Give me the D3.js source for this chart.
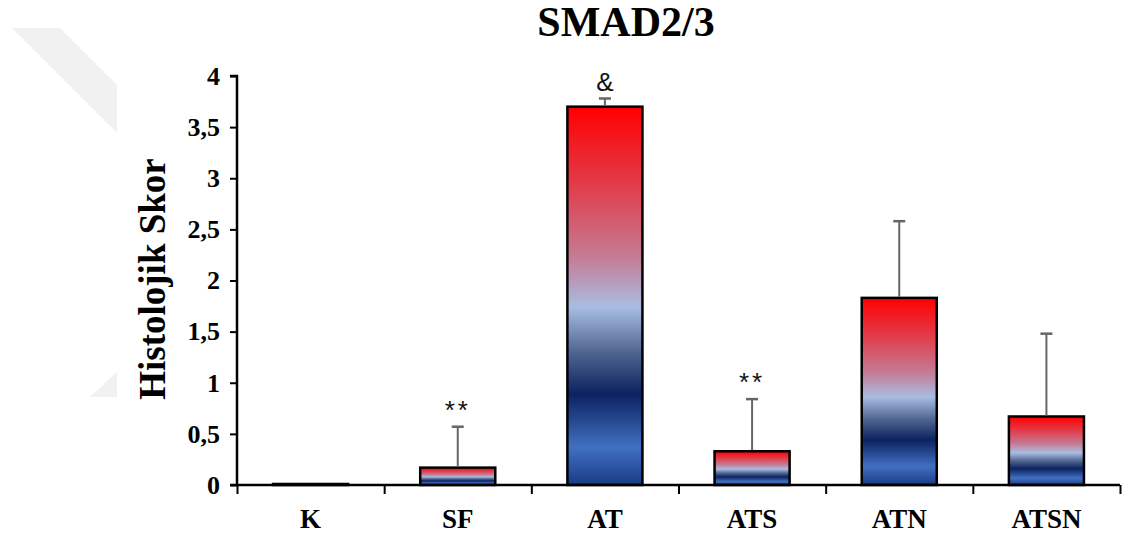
<!DOCTYPE html>
<html lang="tr">
<head>
<meta charset="UTF-8">
<title>SMAD2/3</title>
<script src="https://cdn.jsdelivr.net/npm/d3@7"></script>
<style>
  body { margin: 0; background: #fff; }
  svg { display: block; }
</style>
</head>
<body>
<div id="chart"></div>
<script>
// data
var groups = ["K", "SF", "AT", "ATS", "ATN", "ATSN"];
var means  = [0.01, 0.17, 3.70, 0.33, 1.83, 0.67];
var sds    = [0.00, 0.40, 0.08, 0.51, 0.75, 0.81];
var marks  = ["", "**", "&", "**", "", ""];
var yTicks = [0, 0.5, 1, 1.5, 2, 2.5, 3, 3.5, 4];

var W = 1129, H = 535;
var margin = { top: 76, right: 9, bottom: 50, left: 237 };
var width = W - margin.left - margin.right,
    height = H - margin.top - margin.bottom;
var serif = "'Liberation Serif', 'Times New Roman', serif";

var svg = d3.select("#chart").append("svg")
    .attr("width", W).attr("height", H);

// faint watermark in the corner
svg.append("path")
    .attr("d", "M12,28L60,28L117,85L117,133Z M90,397L117,372L117,397Z")
    .attr("fill", "#f1f1f1");

// bar gradient, top red -> light blue -> navy -> blue
var grad = svg.append("defs").append("linearGradient")
    .attr("id", "barGrad")
    .attr("x1", 0).attr("y1", 0).attr("x2", 0).attr("y2", 1);
[[0, "#ff0000"], [0.2, "#e23a48"], [0.4, "#c47c96"], [0.53, "#a9bde2"],
 [0.65, "#4f6590"], [0.76, "#0b2260"], [0.9, "#4170c2"], [1, "#1b3b85"]]
  .forEach(function (s) {
    grad.append("stop").attr("offset", s[0]).attr("stop-color", s[1]);
  });

var g = svg.append("g")
    .attr("transform", "translate(" + margin.left + "," + margin.top + ")");

var x = d3.scaleBand().domain(groups).range([0, width])
    .paddingInner(0.49).paddingOuter(0.245);
var y = d3.scaleLinear().domain([0, 4]).range([height, 0]);

// title
svg.append("text")
    .attr("x", 626).attr("y", 36)
    .attr("text-anchor", "middle")
    .style("font-family", serif)
    .style("font-weight", "bold")
    .style("font-size", "42px")
    .text("SMAD2/3");

// y label
svg.append("text")
    .attr("transform", "translate(165,279) rotate(-90)")
    .attr("text-anchor", "middle")
    .style("font-family", serif)
    .style("font-weight", "bold")
    .style("font-size", "37px")
    .text("Histolojik Skor");

// bars
g.selectAll(".bar").data(groups).enter().append("rect")
    .attr("class", "bar")
    .attr("x", function (d) { return x(d); })
    .attr("width", x.bandwidth())
    .attr("y", function (d, i) { return y(means[i]); })
    .attr("height", function (d, i) { return y(0) - y(means[i]); })
    .attr("fill", "url(#barGrad)")
    .attr("stroke", "#000")
    .attr("stroke-width", 2.5);

// upper error bars
var err = g.selectAll(".err").data(groups).enter().append("g")
    .attr("class", "err")
    .filter(function (d, i) { return sds[i] > 0; });
err.append("line")
    .attr("x1", function (d) { return x(d) + x.bandwidth() / 2; })
    .attr("x2", function (d) { return x(d) + x.bandwidth() / 2; })
    .attr("y1", function (d) { return y(means[groups.indexOf(d)]) - 1; })
    .attr("y2", function (d) { var i = groups.indexOf(d); return y(means[i] + sds[i]); })
    .attr("stroke", "#666").attr("stroke-width", 2);
err.append("line")
    .attr("x1", function (d) { return x(d) + x.bandwidth() / 2 - 6; })
    .attr("x2", function (d) { return x(d) + x.bandwidth() / 2 + 6; })
    .attr("y1", function (d) { var i = groups.indexOf(d); return y(means[i] + sds[i]); })
    .attr("y2", function (d) { var i = groups.indexOf(d); return y(means[i] + sds[i]); })
    .attr("stroke", "#666").attr("stroke-width", 2.5);

// significance marks
g.selectAll(".sig").data(groups).enter().append("text")
    .attr("class", "sig")
    .attr("x", function (d) { return x(d) + x.bandwidth() / 2; })
    .attr("y", function (d, i) { return y(means[i] + sds[i]) - 8; })
    .attr("text-anchor", "middle")
    .style("font-family", "'Liberation Sans', Arial, sans-serif")
    .style("font-size", "26px")
    .style("letter-spacing", function (d, i) { return marks[i] == "**" ? "3px" : "0px"; })
    .style("fill", "#111")
    .text(function (d, i) { return marks[i]; });

// y axis
var yAxis = g.append("g")
    .call(d3.axisLeft(y).tickValues(yTicks).tickSize(7).tickPadding(10)
        .tickFormat(function (d) { return String(d).replace(".", ","); }));
yAxis.select(".domain").attr("stroke-width", 2.5).attr("d", "M-7," + height + "H0V0H-7");
yAxis.selectAll(".tick line").attr("stroke-width", 2);
yAxis.selectAll("text")
    .style("font-family", serif)
    .style("font-weight", "bold")
    .style("font-size", "26px")
    .attr("fill", "#000");

// x axis: ticks at group boundaries, labels at centres
var xb = d3.scaleLinear().domain([0, groups.length]).range([0, width]);
var xAxis = g.append("g")
    .attr("transform", "translate(0," + height + ")")
    .call(d3.axisBottom(xb).ticks(groups.length).tickSize(9).tickFormat(""));
xAxis.select(".domain").attr("stroke-width", 2.5).attr("d", "M0,0H" + width);
xAxis.selectAll(".tick line").attr("stroke-width", 2);

g.selectAll(".xlab").data(groups).enter().append("text")
    .attr("class", "xlab")
    .attr("x", function (d) { return x(d) + x.bandwidth() / 2; })
    .attr("y", height + 43)
    .attr("text-anchor", "middle")
    .style("font-family", serif)
    .style("font-weight", "bold")
    .style("font-size", "27px")
    .text(function (d) { return d; });
</script>
</body>
</html>
